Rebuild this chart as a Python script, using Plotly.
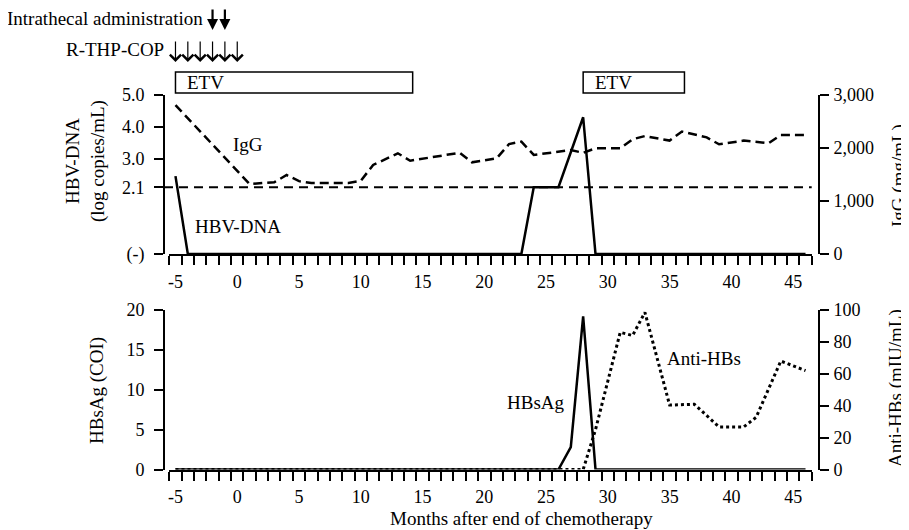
import plotly.graph_objects as go

# ---------------- data ----------------
# HBV-DNA (log copies/mL); 0 = "(-)" undetectable
hbv_months = [-5, -4, 23, 24, 26, 28, 29, 46]
hbv_values = [2.45, 0, 0, 2.1, 2.1, 4.3, 0, 0]

# IgG (mg/mL)
igg_months = [-5, 1, 3, 4, 5, 6, 9, 10, 11, 13, 14, 18, 19, 21, 22, 23, 24, 27, 28, 29, 31,
              32, 33, 35, 36, 37, 38, 39, 41, 43, 44, 46]
igg_values = [2810, 1320, 1355, 1490, 1375, 1340, 1340, 1380, 1680, 1900, 1760, 1910, 1730,
              1805, 2075, 2120, 1870, 1960, 1910, 1995, 1995, 2165, 2225, 2140, 2310, 2250,
              2200, 2070, 2140, 2090, 2245, 2245]

# HBsAg (COI)
hbsag_months = [-5, 26, 27, 28, 29, 46]
hbsag_values = [0, 0, 2.8, 19.2, 0, 0]

# Anti-HBs (mIU/mL)
antihbs_months = [-5, 28, 29, 31, 32, 33, 35, 37, 39, 41, 42, 44, 46]
antihbs_values = [0, 0, 25, 86, 84, 98.5, 40.4, 40.9, 26.7, 26.7, 32.7, 68, 62]

# cut-off line (log copies/mL)
hbv_cutoff = 2.1

# treatments
etv_periods = [(-5, 14.2), (28, 36.2)]
rthpcop_months = [-5, -4, -3, -2, -1, 0]
intrathecal_months = [-2, -1]

# ticks
month_ticks = [-5, 0, 5, 10, 15, 20, 25, 30, 35, 40, 45]
month_ticktext = ["-5", "0", "5", "10", "15", "20", "25", "30", "35", "40", "45"]
hbv_tickvals = [0, 2.1, 3, 4, 5]
hbv_ticktext = ["(-)", "2.1", "3.0", "4.0", "5.0"]

# ---------------- layout geometry ----------------
W, H = 909, 530
OFF = 8  # page body margin of the html page


def px(x):
    return (x - OFF) / W


def py(y):
    return (H - (y - OFF)) / H


FONT = "Liberation Serif"
FS = 18
TFS = 19
XDOM = [px(169.3), px(811.7)]
TOP_DOM = [py(254), py(95)]
BOT_DOM = [py(469.5), py(310)]
LEFT_POS = px(164)
RIGHT_POS = px(819)

fig = go.Figure()

fig.add_trace(go.Scatter(x=igg_months, y=igg_values, mode="lines", xaxis="x", yaxis="y2",
                         line=dict(color="black", width=2.5, dash="9px,5px"), showlegend=False))
fig.add_trace(go.Scatter(x=hbv_months, y=hbv_values, mode="lines", xaxis="x", yaxis="y",
                         line=dict(color="black", width=2.5), showlegend=False))
fig.add_trace(go.Scatter(x=antihbs_months, y=antihbs_values, mode="lines", xaxis="x2", yaxis="y4",
                         line=dict(color="black", width=3, dash="dot"), showlegend=False))
fig.add_trace(go.Scatter(x=hbsag_months, y=hbsag_values, mode="lines", xaxis="x2", yaxis="y3",
                         line=dict(color="black", width=2.5), showlegend=False))

tickfont = dict(family=FONT, size=FS, color="black")

xcommon = dict(domain=XDOM, range=[-5.5, 46.5], showline=True, linewidth=2, linecolor="black",
               showgrid=False, zeroline=False, tickmode="array", tickvals=month_ticks,
               ticktext=month_ticktext, ticks="", tickfont=tickfont, automargin=False,
               ticklabelstandoff=10,
               minor=dict(ticks="outside", tickmode="linear", tick0=-5.5, dtick=1, ticklen=9,
                          tickwidth=2, tickcolor="black", showgrid=False))
ycommon = dict(showline=True, linewidth=2, linecolor="black", showgrid=False, zeroline=False,
               ticks="outside", ticklen=9, tickwidth=2, tickcolor="black", tickfont=tickfont,
               anchor="free", automargin=False)

fig.update_layout(
    width=W, height=H, margin=dict(l=0, r=0, t=0, b=0, autoexpand=False),
    paper_bgcolor="white", plot_bgcolor="white",
    font=dict(family=FONT, size=FS, color="black"),
    xaxis=dict(anchor="y", **xcommon),
    xaxis2=dict(anchor="y3", **xcommon),
    yaxis=dict(domain=TOP_DOM, range=[0, 5], tickmode="array", tickvals=hbv_tickvals,
               ticktext=hbv_ticktext, position=LEFT_POS, ticklabelstandoff=6, **ycommon),
    yaxis2=dict(domain=TOP_DOM, range=[0, 3000], overlaying="y", side="right",
                tickvals=[0, 1000, 2000, 3000], tickformat=",", position=RIGHT_POS,
                ticklabelstandoff=1, **ycommon),
    yaxis3=dict(domain=BOT_DOM, range=[0, 20], dtick=5, position=LEFT_POS,
                ticklabelstandoff=6, **ycommon),
    yaxis4=dict(domain=BOT_DOM, range=[0, 100], dtick=20, overlaying="y3", side="right",
                position=RIGHT_POS, ticklabelstandoff=1, **ycommon),
)

# cut-off dashed line
fig.add_shape(type="line", xref="x domain", yref="y", x0=-(169.3 - 164) / 642.4, x1=1,
              y0=hbv_cutoff, y1=hbv_cutoff, line=dict(color="black", width=2, dash="9px,6px"))

# ETV boxes
box_y0, box_y1 = py(93), py(72)
for (s, e) in etv_periods:
    fig.add_shape(type="rect", xref="x", yref="paper", x0=s, x1=e, y0=box_y0, y1=box_y1,
                  line=dict(color="black", width=1.5), fillcolor="white")
    fig.add_annotation(x=s, y=(box_y0 + box_y1) / 2, xref="x", yref="paper", text="ETV",
                       showarrow=False, xanchor="left", yanchor="middle", xshift=10,
                       font=dict(family=FONT, size=TFS))

# treatment arrows
for m in rthpcop_months:
    fig.add_annotation(x=m, y=py(62), xref="x", yref="paper", text="", showarrow=True,
                       ax=0, ay=-22, arrowhead=4, arrowsize=1.8, arrowwidth=1.2, arrowcolor="black")
for m in intrathecal_months:
    fig.add_annotation(x=m, y=py(30), xref="x", yref="paper", text="", showarrow=True,
                       ax=0, ay=-22, arrowhead=2, arrowsize=1.0, arrowwidth=2.2, arrowcolor="black")

fig.add_annotation(x=px(205), y=py(19), xref="paper", yref="paper",
                   text="Intrathecal administration", showarrow=False, xanchor="right",
                   yanchor="middle", font=dict(family=FONT, size=TFS))
fig.add_annotation(x=px(166), y=py(50), xref="paper", yref="paper",
                   text="R-THP-COP", showarrow=False, xanchor="right",
                   yanchor="middle", font=dict(family=FONT, size=TFS))

# series labels
lab = dict(showarrow=False, xanchor="center", yanchor="middle", font=dict(family=FONT, size=TFS))
fig.add_annotation(x=0.9, y=3.43, xref="x", yref="y", text="IgG", **lab)
fig.add_annotation(x=0.05, y=0.85, xref="x", yref="y", text="HBV-DNA", **lab)
fig.add_annotation(x=24.2, y=8.4, xref="x2", yref="y3", text="HBsAg", **lab)
fig.add_annotation(x=37.8, y=13.9, xref="x2", yref="y3", text="Anti-HBs", **lab)

# axis titles
fig.add_annotation(x=px(85), y=py(161), xref="paper", yref="paper",
                   text="HBV-DNA<br>(log copies/mL)", textangle=-90, **lab)
fig.add_annotation(x=px(899), y=py(176), xref="paper", yref="paper",
                   text="IgG (mg/mL)", textangle=-90, **lab)
fig.add_annotation(x=px(97), y=py(391), xref="paper", yref="paper",
                   text="HBsAg (COI)", textangle=-90, **lab)
fig.add_annotation(x=px(896), y=py(388), xref="paper", yref="paper",
                   text="Anti-HBs (mIU/mL)", textangle=-90, **lab)
fig.add_annotation(x=px(521), y=py(518), xref="paper", yref="paper",
                   text="Months after end of chemotherapy", **lab)

fig.write_html("out.html")
